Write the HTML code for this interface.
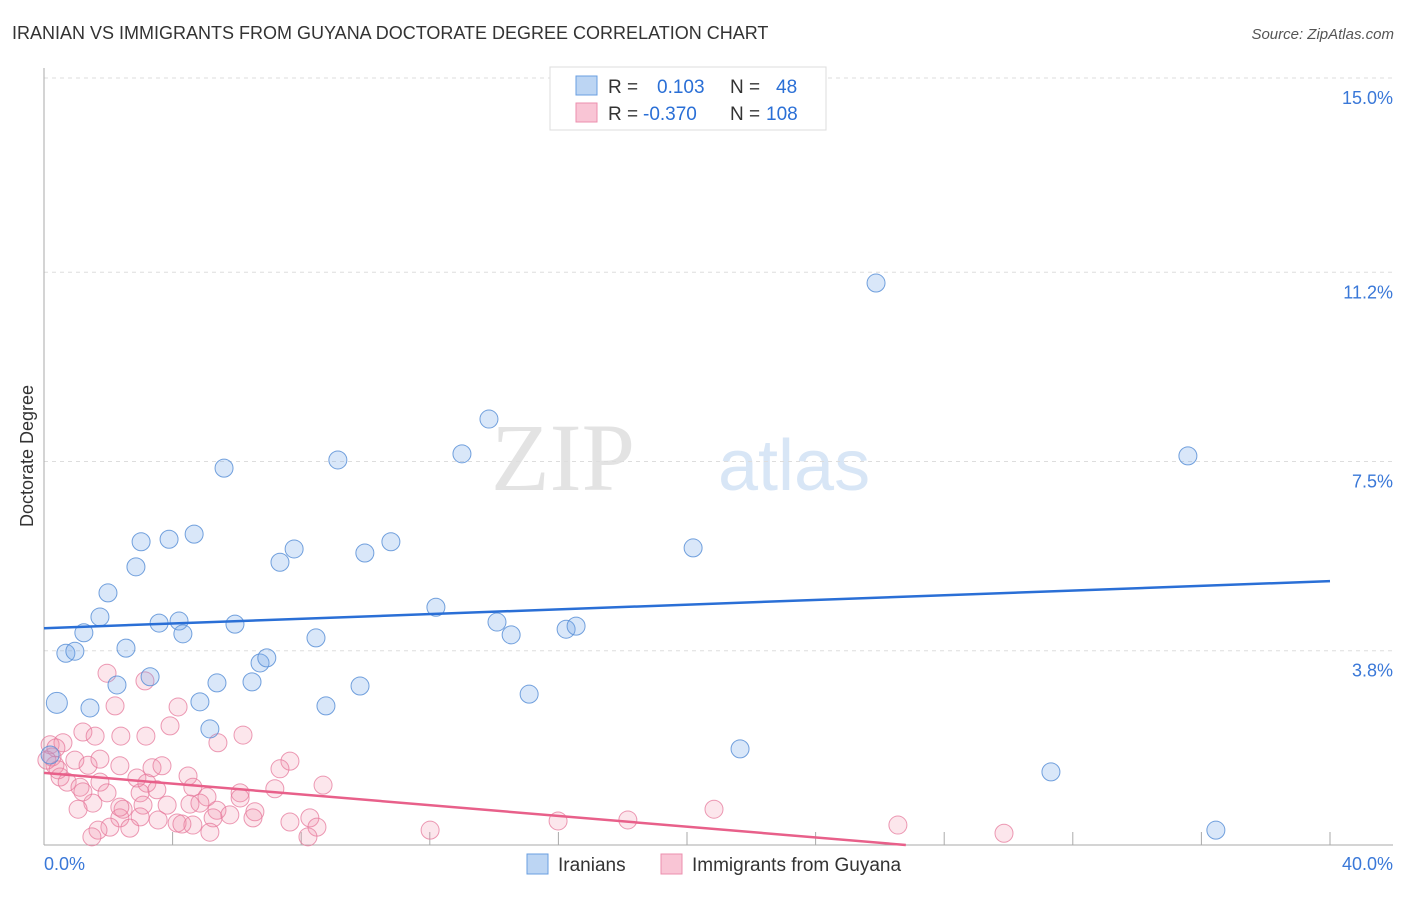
<!DOCTYPE html>
<html><head><meta charset="utf-8"><style>
body{margin:0;background:#fff;font-family:"Liberation Sans",sans-serif;}
</style></head><body>
<svg width="1406" height="892" xmlns="http://www.w3.org/2000/svg">
<text x="12" y="39" font-size="18" fill="#333">IRANIAN VS IMMIGRANTS FROM GUYANA DOCTORATE DEGREE CORRELATION CHART</text>
<text x="1394" y="39" font-size="15" fill="#555" text-anchor="end" font-style="italic">Source: ZipAtlas.com</text>
<text x="635" y="490" font-size="96" fill="#e3e3e3" text-anchor="end" font-family="Liberation Serif,serif">ZIP</text>
<text x="718" y="490" font-size="72" fill="#d8e6f6">atlas</text>
<g id="grid"></g><g id="axes"></g><g id="pts"></g><g id="lines"></g>
<text transform="translate(33,456) rotate(-90)" font-size="18" fill="#333" text-anchor="middle">Doctorate Degree</text>
<g>
<rect x="550" y="67" width="276" height="63" fill="#fff" stroke="#ddd"/>
<rect x="576" y="76" width="21" height="19" fill="#bcd5f3" stroke="#6a9fe0"/>
<rect x="576" y="103" width="21" height="19" fill="#f9c5d5" stroke="#ec8fae"/>
<text x="608" y="93" font-size="19" fill="#333">R =</text><text x="657" y="93" font-size="19" fill="#2a6fd6">0.103</text>
<text x="730" y="93" font-size="19" fill="#333">N =</text><text x="776" y="93" font-size="19" fill="#2a6fd6">48</text>
<text x="608" y="120" font-size="19" fill="#333">R =</text><text x="643" y="120" font-size="19" fill="#2a6fd6">-0.370</text>
<text x="730" y="120" font-size="19" fill="#333">N =</text><text x="766" y="120" font-size="19" fill="#2a6fd6">108</text>
</g>
<g>
<rect x="527" y="854" width="21" height="20" fill="#bcd5f3" stroke="#6a9fe0"/>
<text x="558" y="871" font-size="19" fill="#333">Iranians</text>
<rect x="661" y="854" width="21" height="20" fill="#f9c5d5" stroke="#ec8fae"/>
<text x="692" y="871" font-size="19" fill="#333">Immigrants from Guyana</text>
</g>
</svg>
<script>
const yTicks=[3.8,7.5,11.2,15.0];
const yTickLabels=["3.8%","7.5%","11.2%","15.0%"];
const xTickVals=[0,4,8,12,16,20,24,28,32,36,40];
const iranX=[0.40,1.43,0.68,0.96,1.24,1.74,1.99,2.27,2.55,2.86,3.02,3.30,3.58,3.89,4.20,4.32,4.67,4.85,5.16,5.38,5.60,5.94,6.47,6.72,6.93,7.34,7.78,8.46,8.77,9.14,9.83,9.98,10.79,12.19,13.00,13.84,14.09,14.53,15.09,16.24,16.55,20.19,21.65,25.88,31.32,35.58,36.45,0.19];
const iranY=[2.78,2.68,3.75,3.79,4.15,4.46,4.93,3.13,3.85,5.44,5.93,3.29,4.34,5.98,4.38,4.13,6.08,2.80,2.27,3.17,7.37,4.32,3.19,3.56,3.66,5.53,5.79,4.05,2.72,7.53,3.11,5.71,5.93,4.65,7.65,8.33,4.36,4.11,2.95,4.22,4.28,5.81,1.88,10.99,1.43,7.61,0.29,1.76];
const guyX=[1.96,3.14,2.21,4.17,3.92,1.21,1.59,2.39,3.17,6.19,5.41,0.19,0.59,0.96,1.37,1.74,2.36,3.36,3.67,4.48,7.65,7.34,0.25,0.34,0.50,0.72,1.12,1.74,1.96,1.52,1.06,1.21,2.89,3.20,3.51,2.99,4.63,5.07,4.54,4.85,6.10,6.10,7.18,8.68,3.08,3.83,2.46,5.38,5.78,6.56,6.50,2.99,3.55,4.14,4.63,5.26,5.16,7.65,8.27,8.49,8.21,2.36,2.05,1.68,1.49,2.67,4.29,2.36,12.01,15.99,18.16,20.84,26.56,29.86,0.37,0.09,0.44];
const guyY=[3.36,3.21,2.72,2.70,2.33,2.21,2.13,2.13,2.13,2.15,2.00,1.96,2.00,1.66,1.56,1.68,1.55,1.51,1.55,1.35,1.64,1.49,1.72,1.56,1.33,1.23,1.13,1.23,1.02,0.82,0.70,1.04,1.31,1.21,1.08,1.02,1.13,0.94,0.80,0.82,1.02,0.92,1.10,1.17,0.78,0.78,0.70,0.68,0.59,0.65,0.53,0.55,0.49,0.43,0.39,0.53,0.25,0.45,0.53,0.35,0.16,0.53,0.35,0.29,0.16,0.33,0.41,0.74,0.29,0.47,0.49,0.70,0.39,0.23,1.90,1.66,1.47];
const iranTrend=[4.24,5.16];
const guyTrend=[1.41,-0.0526];
const NS="http://www.w3.org/2000/svg";
const X=v=>44+v/40*1286, Y=v=>845-v/15*767;
function mk(tag,attrs,parent){const e=document.createElementNS(NS,tag);for(const k in attrs)e.setAttribute(k,attrs[k]);document.getElementById(parent).appendChild(e);return e;}
yTicks.forEach((t,i)=>{
 const g=mk('line',{x1:44,x2:1393,y1:Y(t),y2:Y(t),stroke:'#ddd','stroke-dasharray':'4,4'},'grid');
 
 
 const l=mk('text',{x:1393,y:Y(t)+26,'font-size':18,fill:'#3a78d8','text-anchor':'end'},'grid');
 l.textContent=yTickLabels[i];
 
 
});
const ax=mk('line',{x1:44,x2:1393,y1:845,y2:845,stroke:'#aaa'},'axes');


const ay=mk('line',{x1:44,x2:44,y1:68,y2:845,stroke:'#aaa'},'axes');


xTickVals.forEach(t=>{const k=mk('line',{x1:X(t),x2:X(t),y1:832,y2:845,stroke:'#aaa'},'axes');
 
 });
const l0=mk('text',{x:44,y:870,'font-size':18,fill:'#3a78d8'},'axes');l0.textContent='0.0%';


const l1=mk('text',{x:1393,y:870,'font-size':18,fill:'#3a78d8','text-anchor':'end'},'axes');l1.textContent='40.0%';


guyX.forEach((v,i)=>{const c=mk('circle',{cx:X(v),cy:Y(guyY[i]),r:9,fill:'rgba(242,140,170,0.22)',stroke:'rgba(230,120,155,0.75)','stroke-width':1},'pts');
 
 });
iranX.forEach((v,i)=>{const c=mk('circle',{cx:X(v),cy:Y(iranY[i]),r:(i==0?10.5:9),fill:'rgba(120,170,235,0.28)',stroke:'rgba(90,145,215,0.85)','stroke-width':1},'pts');
 
 });
const bl=mk('line',{x1:X(0),y1:Y(iranTrend[0]),x2:X(40),y2:Y(iranTrend[1]),stroke:'#2a6fd6','stroke-width':2.5},'lines');


const xEnd=-guyTrend[0]/guyTrend[1];
const pl=mk('line',{x1:X(0),y1:Y(guyTrend[0]),x2:X(xEnd),y2:Y(0),stroke:'#e8608a','stroke-width':2.5},'lines');


</script>
</body></html>
